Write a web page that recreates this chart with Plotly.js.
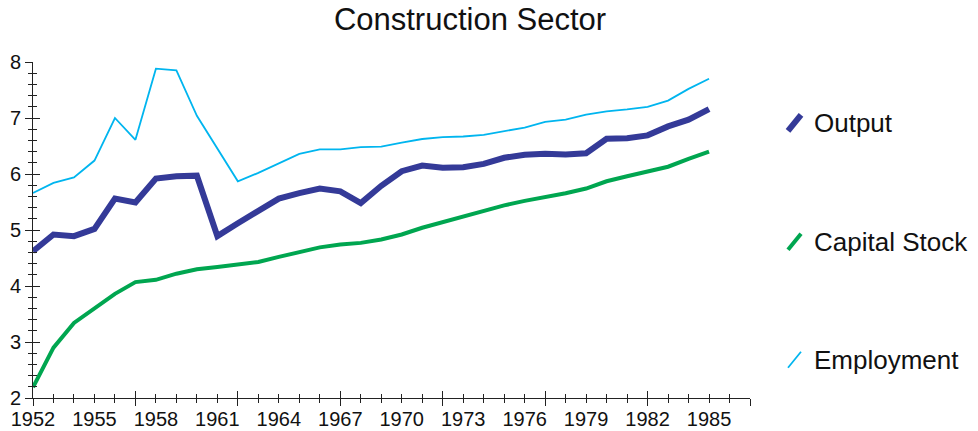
<!DOCTYPE html>
<html>
<head>
<meta charset="utf-8">
<script src="https://cdn.plot.ly/plotly-3.0.1.min.js"></script>
<style>
  html, body { margin: 0; padding: 0; background: #fff; }
  #chart { width: 978px; height: 431px; }
</style>
</head>
<body>
<div id="chart"></div>
<script>
const years = [1952,1953,1954,1955,1956,1957,1958,1959,1960,1961,1962,1963,1964,1965,1966,1967,1968,1969,1970,1971,1972,1973,1974,1975,1976,1977,1978,1979,1980,1981,1982,1983,1984,1985];

const output = [4.62,4.92,4.89,5.02,5.56,5.49,5.92,5.96,5.97,
                4.89,5.12,5.33,5.56,5.66,5.74,5.69,5.48,
                5.79,6.05,6.15,6.11,6.12,6.18,6.29,6.345,6.36,
                6.35,6.37,6.63,6.64,6.69,6.85,6.97,7.16];

const capitalStock = [2.19,2.90,3.34,3.61,3.86,4.07,4.11,4.22,4.30,
                      4.34,4.38,4.43,4.52,4.60,4.69,4.74,4.77,
                      4.83,4.92,5.04,5.14,5.24,5.33,5.44,5.52,5.58,
                      5.655,5.74,5.87,5.96,6.05,6.13,6.27,6.40];

const employment = [5.66,5.84,5.94,6.24,7.00,6.61,7.88,7.85,7.04,
                    6.45,5.87,6.02,6.19,6.36,6.44,6.44,6.48,
                    6.49,6.56,6.625,6.66,6.67,6.70,6.77,6.83,6.93,
                    6.97,7.06,7.12,7.155,7.20,7.31,7.52,7.70];

const seriesNames = ["Output", "Capital Stock", "Employment"];
const xTickLabels = [1952,1955,1958,1961,1964,1967,1970,1973,1976,1979,1982,1985];
const yTickLabels = [2,3,4,5,6,7,8];

const colors = ["#343a98", "#00a650", "#00b5ef"];
const widths = [6, 4, 1.8];

const FONT = "Liberation Sans, Arial, Helvetica, sans-serif";
const XR = [1952, 1987];
const YR = [2, 8];

const traces = [
  {x: years, y: output, name: seriesNames[0], type: "scatter", mode: "lines",
   line: {color: colors[0], width: widths[0]}, xaxis: "x", yaxis: "y"},
  {x: years, y: capitalStock, name: seriesNames[1], type: "scatter", mode: "lines",
   line: {color: colors[1], width: widths[1]}, xaxis: "x2", yaxis: "y2"},
  {x: years, y: employment, name: seriesNames[2], type: "scatter", mode: "lines",
   line: {color: colors[2], width: widths[2]}, xaxis: "x", yaxis: "y"}
];

// legend drawn as slanted strokes + text (paper coordinates)
const L = 33, R = 750, T = 62, B = 398.3;
const px = v => (v - L) / (R - L);
const py = v => (B - v) / (B - T);
const legendY = [123, 242, 360];
const shapes = [];
const annotations = [];
seriesNames.forEach((n, i) => {
  const cy = legendY[i];
  shapes.push({type: "line", xref: "paper", yref: "paper",
    x0: px(788), y0: py(cy + 8), x1: px(801), y1: py(cy - 8),
    line: {color: colors[i], width: widths[i]}});
  annotations.push({xref: "paper", yref: "paper", x: px(812), y: py(cy),
    xanchor: "left", yanchor: "middle", text: n, showarrow: false,
    font: {family: FONT, size: 26, color: "#111"}});
});

const axBase = {showgrid: false, zeroline: false, showline: true, linecolor: "#222",
                linewidth: 1, fixedrange: true};

const layout = {
  width: 978, height: 431,
  margin: {l: L, r: 978 - R, t: T, b: 431 - B, pad: 0},
  paper_bgcolor: "#fff", plot_bgcolor: "#fff",
  showlegend: false,
  font: {family: FONT, color: "#111"},
  title: {text: "Construction Sector", font: {family: FONT, size: 31, color: "#111"},
          x: 470 / 978, xanchor: "center", xref: "container",
          y: 1 - 19 / 431, yanchor: "middle", yref: "container"},
  xaxis: Object.assign({}, axBase, {
    range: XR, tickmode: "array", tickvals: xTickLabels, ticktext: xTickLabels.map(String),
    ticks: "outside", ticklen: 3, tickcolor: "rgba(0,0,0,0)",
    tickfont: {family: FONT, size: 20, color: "#111"}, anchor: "y",
    minor: {ticks: "outside", ticklen: 4, dtick: 1, tick0: 1952, tickcolor: "#222", tickwidth: 1}
  }),
  xaxis2: Object.assign({}, axBase, {
    range: XR, overlaying: "x", anchor: "y2", side: "bottom",
    tick0: 1952, dtick: 5, ticks: "inside", ticklen: 7, tickcolor: "#222", tickwidth: 1,
    showticklabels: false,
    minor: {ticks: "inside", ticklen: 4, dtick: 1, tick0: 1952, tickcolor: "#222", tickwidth: 1}
  }),
  xaxis3: Object.assign({}, axBase, {
    range: XR, overlaying: "x", anchor: "y", side: "bottom",
    tick0: 1952, dtick: 5, ticks: "outside", ticklen: 7, tickcolor: "#222", tickwidth: 1,
    showticklabels: false
  }),
  yaxis: Object.assign({}, axBase, {
    range: YR, tickmode: "array", tickvals: yTickLabels, ticktext: yTickLabels.map(String),
    ticks: "outside", ticklen: 7, tickcolor: "#222", tickwidth: 1,
    tickfont: {family: FONT, size: 20, color: "#111"}, anchor: "x",
    minor: {ticks: "outside", ticklen: 4, dtick: 0.2, tick0: 2, tickcolor: "#222", tickwidth: 1}
  }),
  yaxis2: Object.assign({}, axBase, {
    range: YR, overlaying: "y", anchor: "x2", side: "left",
    dtick: 1, tick0: 2, ticks: "inside", ticklen: 7, tickcolor: "#222", tickwidth: 1,
    showticklabels: false,
    minor: {ticks: "inside", ticklen: 4, dtick: 0.2, tick0: 2, tickcolor: "#222", tickwidth: 1}
  }),
  shapes: shapes,
  annotations: annotations
};

// third x axis (outer major ticks) needs a trace to be drawn: reuse output data, invisible
traces.push({x: years, y: output, type: "scatter", mode: "lines", xaxis: "x3", yaxis: "y",
             line: {color: "rgba(0,0,0,0)", width: 0}, hoverinfo: "skip", showlegend: false});

Plotly.newPlot("chart", traces, layout, {staticPlot: true, displayModeBar: false});
</script>
</body>
</html>
